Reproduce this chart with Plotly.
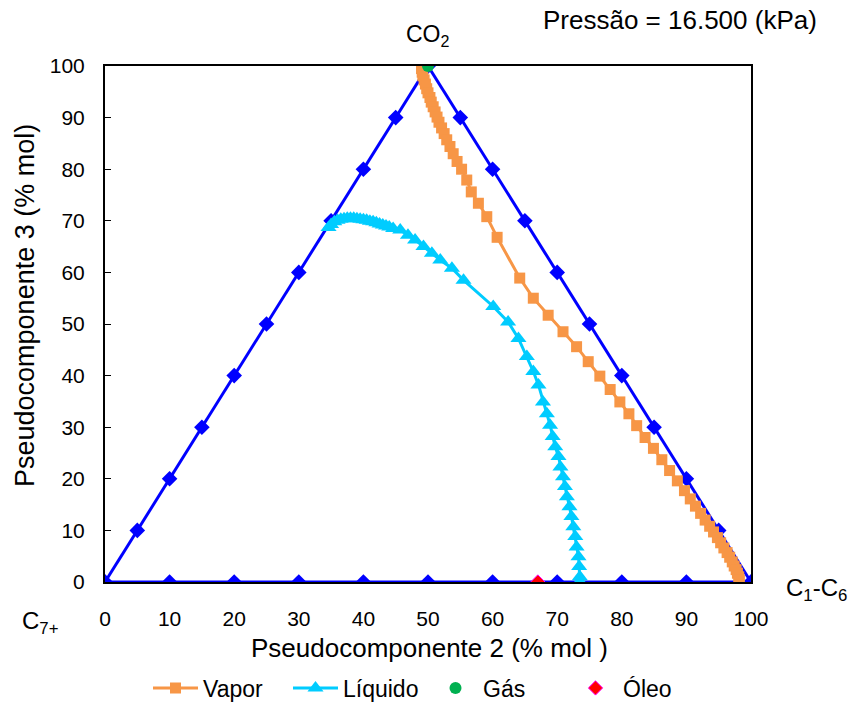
import plotly.graph_objects as go

# Triangle (diagram boundary) points
left_x = [0, 5, 10, 15, 20, 25, 30, 35, 40, 45, 50]
left_y = [0, 10, 20, 30, 40, 50, 60, 70, 80, 90, 100]
right_x = [50, 55, 60, 65, 70, 75, 80, 85, 90, 95, 100]
right_y = [100, 90, 80, 70, 60, 50, 40, 30, 20, 10, 0]
base_x = [0, 10, 20, 30, 40, 50, 60, 70, 80, 90, 100]
base_y = [0, 0, 0, 0, 0, 0, 0, 0, 0, 0, 0]

# Vapor curve
vapor_x = [49.0, 49.1, 49.2, 49.4, 49.6, 49.8, 50.0, 50.3, 50.5, 50.8, 51.1, 51.4,
           51.7, 52.1, 52.5, 52.9, 53.4, 53.9, 54.5, 55.2, 56.0, 56.7, 57.8, 59.1,
           60.7, 64.2, 66.3, 68.6, 70.9, 73.0, 74.8, 76.6, 78.2, 79.7, 81.1, 82.3,
           83.6, 84.9, 86.2, 87.4, 88.6, 89.7, 90.6, 91.4, 92.2, 92.9, 93.6, 94.2,
           94.8, 95.3, 95.8, 96.3, 96.7, 97.1, 97.4, 97.7, 97.9, 98.1, 98.2]
vapor_y = [99.5, 98.8, 98.1, 97.3, 96.5, 95.6, 94.8, 93.9, 93.0, 92.1, 91.1, 90.1,
           89.1, 88.0, 86.9, 85.7, 84.4, 83.0, 81.5, 80.0, 77.9, 75.6, 73.4, 70.8,
           66.8, 58.9, 55.0, 51.7, 48.5, 45.6, 42.7, 39.9, 37.3, 34.9, 32.6, 30.3,
           28.0, 25.9, 23.7, 21.6, 19.6, 17.7, 16.1, 14.7, 13.3, 12.0, 10.8, 9.7,
           8.6, 7.6, 6.6, 5.7, 4.8, 3.9, 3.1, 2.4, 1.7, 1.0, 0.4]

# Liquid curve
liq_x = [34.6, 35.0, 35.5, 36.0, 36.5, 37.0, 37.5, 38.0, 38.5, 39.0, 39.5, 40.0,
         40.5, 41.0, 41.5, 42.0, 42.5, 43.0, 43.5, 44.0, 44.6, 45.7, 46.9, 48.0,
         49.3, 50.6, 51.9, 53.7, 55.5, 60.1, 62.4, 64.0, 65.3, 66.3, 67.1, 67.8,
         68.4, 68.9, 69.3, 69.7, 70.2, 70.5, 70.9, 71.2, 71.5, 71.9, 72.2, 72.5,
         72.8, 73.0, 73.3, 73.4, 73.5, 73.5]
liq_y = [68.7, 69.3, 69.8, 70.1, 70.3, 70.4, 70.5, 70.5, 70.5, 70.4, 70.3, 70.2,
         70.1, 69.9, 69.8, 69.6, 69.4, 69.2, 69.0, 68.8, 68.5, 68.2, 67.2, 66.3,
         65.0, 63.7, 62.4, 60.8, 58.5, 53.4, 50.4, 47.2, 43.7, 40.8, 38.2, 34.9,
         32.6, 30.4, 28.2, 26.2, 24.3, 22.3, 20.4, 18.5, 16.5, 14.6, 12.7, 10.7,
         8.8, 6.8, 4.9, 3.0, 1.0, 0.1]

gas_x = [50]
gas_y = [100]
oleo_x = [67]
oleo_y = [0]

x_ticks = [0, 10, 20, 30, 40, 50, 60, 70, 80, 90, 100]
y_ticks = [0, 10, 20, 30, 40, 50, 60, 70, 80, 90, 100]

BLUE = "#0000FF"
ORANGE = "#F79646"
CYAN = "#00CCFF"

fig = go.Figure()
for xs, ys in [(left_x, left_y), (right_x, right_y), (base_x, base_y)]:
    fig.add_trace(go.Scatter(x=xs, y=ys, mode="lines+markers", showlegend=False,
                             line=dict(color=BLUE, width=3),
                             marker=dict(symbol="diamond", size=12, color=BLUE),
                             hoverinfo="skip"))

fig.add_trace(go.Scatter(x=vapor_x, y=vapor_y, mode="lines+markers", name="Vapor",
                         line=dict(color=ORANGE, width=3),
                         marker=dict(symbol="square", size=11, color=ORANGE)))
fig.add_trace(go.Scatter(x=liq_x, y=liq_y, mode="lines+markers", name="Líquido",
                         line=dict(color=CYAN, width=3),
                         marker=dict(symbol="triangle-up", size=14, color=CYAN)))
fig.add_trace(go.Scatter(x=gas_x, y=gas_y, mode="markers", name="Gás",
                         marker=dict(symbol="circle", size=12, color="#00B050")))
fig.add_trace(go.Scatter(x=oleo_x, y=oleo_y, mode="markers", name="Óleo",
                         marker=dict(symbol="diamond", size=11, color="#FF0000",
                                     line=dict(color="#FF00FF", width=1))))

font = dict(family="Liberation Sans, Arial, sans-serif", color="black")

L, T, W, H = 105, 66, 646, 516


def px(xp):
    return (xp - L) / W


def py(yp):
    return (T + H - yp) / H


fig.update_layout(
    width=854, height=706,
    margin=dict(l=L, r=854 - L - W, t=T, b=706 - T - H, autoexpand=False),
    paper_bgcolor="white", plot_bgcolor="white",
    font=dict(size=20, **font),
    xaxis=dict(range=[0, 100], tickvals=x_ticks, ticks="", showgrid=False,
               zeroline=False, showline=True, linecolor="black", linewidth=2,
               mirror=True, ticklabelstandoff=17, automargin=False,
               tickfont=dict(size=21, **font)),
    yaxis=dict(range=[0, 100], tickvals=y_ticks, ticks="inside", ticklen=6,
               tickcolor="black", tickwidth=1, showgrid=False, zeroline=False,
               showline=True, linecolor="black", linewidth=2, mirror=True,
               ticklabelstandoff=14, automargin=False,
               tickfont=dict(size=21, **font)),
    legend=dict(orientation="h", x=px(428), xanchor="center", xref="paper",
                y=1 - 688 / 706, yanchor="middle", yref="container",
                font=dict(size=23, **font), itemwidth=45, tracegroupgap=0,
                entrywidth=80, entrywidthmode="pixels"),
    annotations=[
        dict(text="Pseudocomponente 2 (% mol )", x=px(429), y=py(648),
             xref="paper", yref="paper", xanchor="center", yanchor="middle",
             showarrow=False, font=dict(size=26, **font)),
        dict(text="Pseudocomponente 3 (% mol)", x=px(25), y=py(306),
             xref="paper", yref="paper", xanchor="center", yanchor="middle",
             textangle=-90, showarrow=False, font=dict(size=27, **font)),
        dict(text="CO<sub>2</sub>", x=50, y=100, xref="x", yref="y", yshift=31,
             showarrow=False, font=dict(size=23, **font)),
        dict(text="Pressão = 16.500 (kPa)", x=px(680), y=py(20),
             xref="paper", yref="paper", xanchor="center", yanchor="middle",
             showarrow=False, font=dict(size=26, **font)),
        dict(text="C<sub>1</sub>-C<sub>6</sub>", x=px(816), y=py(589),
             xref="paper", yref="paper", xanchor="center", yanchor="middle",
             showarrow=False, font=dict(size=24, **font)),
        dict(text="C<sub>7+</sub>", x=px(40), y=py(622),
             xref="paper", yref="paper", xanchor="center", yanchor="middle",
             showarrow=False, font=dict(size=24, **font)),
    ],
)

fig.write_html("out.html")
